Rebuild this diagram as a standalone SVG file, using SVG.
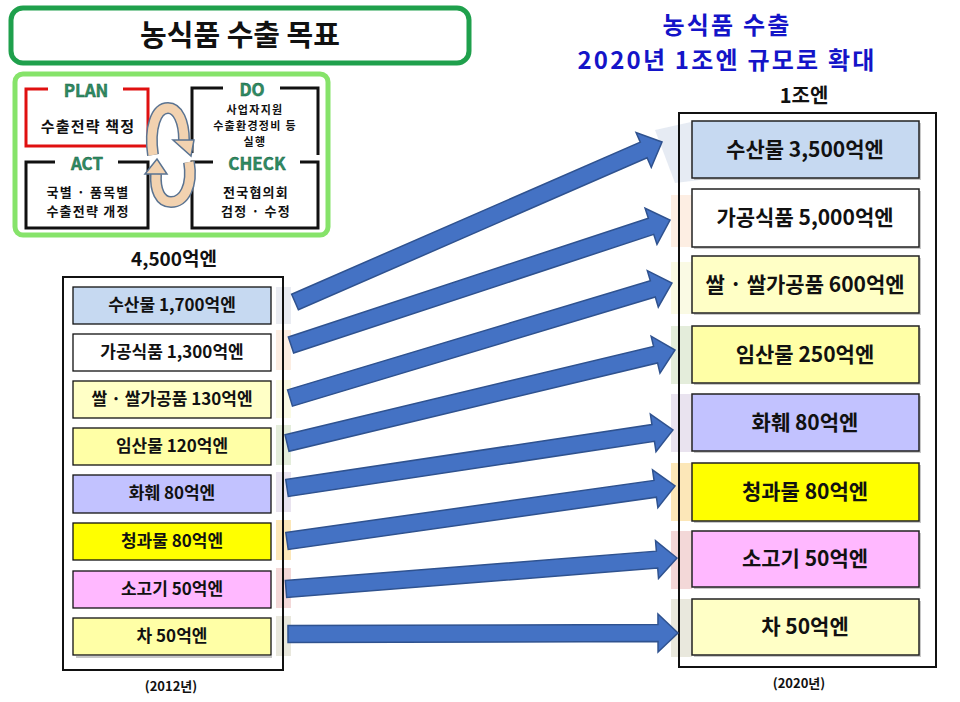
<svg xmlns="http://www.w3.org/2000/svg" width="960" height="702" viewBox="0 0 960 702">
<defs>
<style>
text{font-family:"Noto Sans CJK KR","Liberation Sans",sans-serif;font-weight:bold;text-anchor:middle;fill:#111}
.bx{stroke:#111;stroke-width:1.3}
.rb{stroke:#222;stroke-width:1.5}
.sh{fill:#9a9a9a;opacity:.55}
.lt{font-size:17px}
.rt{font-size:21px}
.pd{font-size:13px;letter-spacing:1.2px}
.dd{font-size:11px;letter-spacing:1.3px}
.pl{font-size:17px;fill:#2E8B62;stroke:#1d5e42;stroke-width:.4}
.arr{fill:#4472C4;stroke:#2F528F;stroke-width:1.5}
.strip{opacity:.55}
.bt{font-size:24px;fill:#1414C8;letter-spacing:2.2px}
</style>
</defs>
<rect width="960" height="702" fill="#fff"/>

<g id="title">
<rect x="11" y="8" width="458" height="55" rx="12" fill="#fff" stroke="#1FA04C" stroke-width="5"/>
<text x="240" y="46" style="font-size:29px">농식품 수출 목표</text>
</g>

<g id="pdca">
<rect x="15" y="74" width="313" height="161" rx="8" fill="#fff" stroke="#86E36A" stroke-width="5"/>
<g id="plan">
<path d="M48,89 H26 V146 H148 V89 H123" fill="none" stroke="#E01010" stroke-width="3"/>
<text class="pl" x="86" y="97">PLAN</text>
<text class="pd" x="88" y="132" style="font-size:15px">수출전략 책정</text>
</g>
<g id="do">
<path d="M223,88 H192 V153 M280,88 H318 V155" fill="none" stroke="#111" stroke-width="3"/>
<text class="pl" x="252" y="96">DO</text>
<text class="dd" x="255" y="114">사업자지원</text>
<text class="dd" x="255" y="130">수출환경정비 등</text>
<text class="dd" x="255" y="146">실행</text>
</g>
<g id="act">
<path d="M55,162 H26 V228 H148 V162 H118" fill="none" stroke="#111" stroke-width="3"/>
<text class="pl" x="87" y="170">ACT</text>
<text class="pd" x="88" y="197">국별 · 품목별</text>
<text class="pd" x="88" y="216">수출전략 개정</text>
</g>
<g id="check">
<path d="M213,162 H192 V228 H318 V162 H300" fill="none" stroke="#111" stroke-width="3"/>
<text class="pl" x="257" y="170">CHECK</text>
<text class="pd" x="256" y="197">전국협의회</text>
<text class="pd" x="256" y="216">검정 · 수정</text>
</g>
<g id="cycle">
<path d="M153,155 C149,128 156,108 168,108 C178,108 184,122 184,140" fill="none" stroke="#5A7391" stroke-width="12"/>
<path d="M153,155 C149,128 156,108 168,108 C178,108 184,122 184,140" fill="none" stroke="#F2D2B0" stroke-width="9"/>
<polygon points="173,140 194,140 191,156" fill="#F2D2B0" stroke="#5A7391" stroke-width="1.5"/>
<path d="M189,162 C193,186 184,202 171,202 C160,202 155,190 156,174" fill="none" stroke="#5A7391" stroke-width="12"/>
<path d="M189,162 C193,186 184,202 171,202 C160,202 155,190 156,174" fill="none" stroke="#F2D2B0" stroke-width="9"/>
<polygon points="145,174 167,174 157,159" fill="#F2D2B0" stroke="#5A7391" stroke-width="1.5"/>
</g>
</g>

<g id="right-title">
<text class="bt" x="727" y="34">농식품 수출</text>
<text class="bt" x="727" y="69">2020년 1조엔 규모로 확대</text>
<text x="804" y="103" style="font-size:20px">1조엔</text>
</g>

<g id="left-panel">
<text x="174" y="266" style="font-size:19px">4,500억엔</text>
<g class="strip">
<rect x="276" y="287" width="15" height="37" fill="#D9DEE8"/>
<rect x="276" y="330" width="15" height="40" fill="#FBE0CC"/>
<rect x="276" y="380" width="15" height="38" fill="#F7F7CF"/>
<rect x="276" y="425" width="15" height="40" fill="#CFE0BE"/>
<rect x="276" y="472" width="15" height="40" fill="#D8CDE2"/>
<rect x="276" y="520" width="15" height="40" fill="#FBD57F"/>
<rect x="276" y="568" width="15" height="40" fill="#EBBABA"/>
<rect x="276" y="616" width="15" height="40" fill="#D8D6C3"/>
</g>
<rect x="63" y="277" width="220" height="393" fill="none" stroke="#111" stroke-width="2"/>
<rect class="sh" x="76" y="656" width="196" height="2"/>
<g id="l1"><rect class="bx" x="73" y="287" width="198" height="37" fill="#C6D9F1"/><text class="lt" x="172" y="311">수산물 1,700억엔</text></g>
<g id="l2"><rect class="bx" x="73" y="334" width="198" height="37" fill="#FFFFFF"/><text class="lt" x="172" y="358">가공식품 1,300억엔</text></g>
<g id="l3"><rect class="bx" x="73" y="381" width="198" height="37" fill="#FFFFC6"/><text class="lt" x="172" y="405">쌀 · 쌀가공품 130억엔</text></g>
<g id="l4"><rect class="bx" x="73" y="428" width="198" height="37" fill="#FFFFA6"/><text class="lt" x="172" y="452">임산물 120억엔</text></g>
<g id="l5"><rect class="bx" x="73" y="475" width="198" height="38" fill="#C2C2FF"/><text class="lt" x="172" y="499">화훼 80억엔</text></g>
<g id="l6"><rect class="bx" x="73" y="523" width="198" height="37" fill="#FFFF00"/><text class="lt" x="172" y="547">청과물 80억엔</text></g>
<g id="l7"><rect class="bx" x="73" y="571" width="198" height="37" fill="#FFB8FF"/><text class="lt" x="172" y="595">소고기 50억엔</text></g>
<g id="l8"><rect class="bx" x="73" y="618" width="198" height="37" fill="#FFFFA6"/><text class="lt" x="172" y="642">차 50억엔</text></g>
<text x="171" y="691" style="font-size:13px">(2012년)</text>
</g>

<g id="right-panel">
<polygon points="655,130 700,120 700,180 675,183" fill="#DCE3EE" opacity=".7"/>
<g class="strip">
<rect x="671" y="195" width="21" height="52" fill="#FBE0CC"/>
<rect x="671" y="262" width="21" height="52" fill="#F7F7CF"/>
<rect x="671" y="326" width="21" height="58" fill="#CFE0BE"/>
<rect x="671" y="394" width="21" height="58" fill="#D8CDE2"/>
<rect x="671" y="463" width="21" height="58" fill="#FBD57F"/>
<rect x="671" y="531" width="21" height="58" fill="#EBBABA"/>
<rect x="671" y="599" width="21" height="58" fill="#D8D6C3"/>
</g>
<rect x="679" y="113" width="257" height="554" fill="none" stroke="#111" stroke-width="2"/>
<g id="r1"><rect class="sh" x="694" y="123" width="227" height="57"/><rect class="rb" x="692" y="121" width="227" height="57" fill="#C6D9F1"/><text class="rt" x="805" y="157">수산물 3,500억엔</text></g>
<g id="r2"><rect class="sh" x="694" y="191" width="227" height="58"/><rect class="rb" x="692" y="189" width="227" height="58" fill="#FFFFFF"/><text class="rt" x="805" y="225">가공식품 5,000억엔</text></g>
<g id="r3"><rect class="sh" x="694" y="258" width="227" height="57"/><rect class="rb" x="692" y="256" width="227" height="57" fill="#FFFFC6"/><text class="rt" x="805" y="292">쌀 · 쌀가공품 600억엔</text></g>
<g id="r4"><rect class="sh" x="694" y="328" width="227" height="57"/><rect class="rb" x="692" y="326" width="227" height="57" fill="#FFFFA6"/><text class="rt" x="805" y="362">임산물 250억엔</text></g>
<g id="r5"><rect class="sh" x="694" y="396" width="227" height="57"/><rect class="rb" x="692" y="394" width="227" height="57" fill="#C2C2FF"/><text class="rt" x="805" y="430">화훼 80억엔</text></g>
<g id="r6"><rect class="sh" x="694" y="465" width="227" height="58"/><rect class="rb" x="692" y="463" width="227" height="58" fill="#FFFF00"/><text class="rt" x="805" y="499">청과물 80억엔</text></g>
<g id="r7"><rect class="sh" x="694" y="533" width="227" height="56"/><rect class="rb" x="692" y="531" width="227" height="56" fill="#FFB8FF"/><text class="rt" x="805" y="566">소고기 50억엔</text></g>
<g id="r8"><rect class="sh" x="694" y="601" width="227" height="56"/><rect class="rb" x="692" y="599" width="227" height="56" fill="#FFFFC6"/><text class="rt" x="805" y="634">차 50억엔</text></g>
<text x="799" y="688" style="font-size:13px">(2020년)</text>
</g>

<g id="connectors">
<polygon class="arr" transform="translate(295,302) rotate(-23.56)" points="0,-8.5 380.4,-8.5 380.4,-19 400.4,0 380.4,19 380.4,8.5 0,8.5"/>
<polygon class="arr" transform="translate(291,345) rotate(-18.25)" points="0,-8.5 379.1,-8.5 379.1,-19 399.1,0 379.1,19 379.1,8.5 0,8.5"/>
<polygon class="arr" transform="translate(290,398) rotate(-16.75)" points="0,-8.5 378.9,-8.5 378.9,-19 398.9,0 378.9,19 378.9,8.5 0,8.5"/>
<polygon class="arr" transform="translate(287,443) rotate(-13.48)" points="0,-8.5 379,-8.5 379,-19 399,0 379,19 379,8.5 0,8.5"/>
<polygon class="arr" transform="translate(287,488) rotate(-8.55)" points="0,-8.5 370.3,-8.5 370.3,-19 390.3,0 370.3,19 370.3,8.5 0,8.5"/>
<polygon class="arr" transform="translate(287,541) rotate(-8.07)" points="0,-8.5 371.9,-8.5 371.9,-19 391.9,0 371.9,19 371.9,8.5 0,8.5"/>
<polygon class="arr" transform="translate(286,589) rotate(-4.53)" points="0,-8.5 372.2,-8.5 372.2,-19 392.2,0 372.2,19 372.2,8.5 0,8.5"/>
<polygon class="arr" transform="translate(288,634) rotate(-0.15)" points="0,-8.5 370,-8.5 370,-19 390,0 370,19 370,8.5 0,8.5"/>
</g>
</svg>
